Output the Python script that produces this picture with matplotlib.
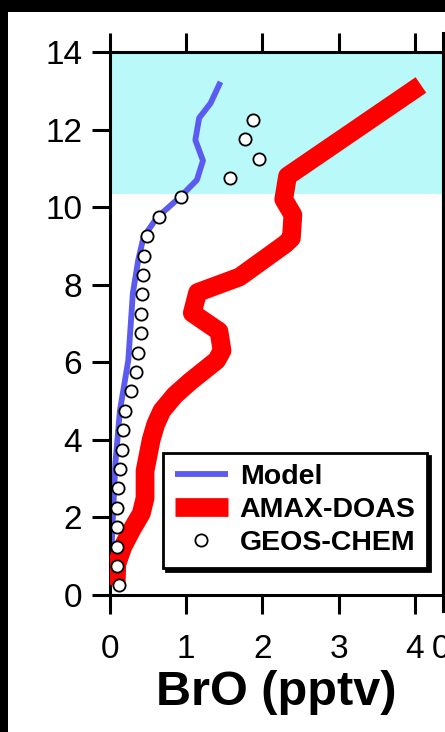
import matplotlib.pyplot as plt
from matplotlib.patches import Rectangle

plt.rcParams['font.family'] = ['Liberation Sans', 'DejaVu Sans']

# Model (blue line)
model_x = [0.02, 0.02, 0.04, 0.07, 0.13, 0.24, 0.30, 0.37, 0.44, 0.62, 0.92, 1.14, 1.22, 1.12, 1.17, 1.32, 1.45]
model_y = [0.25, 1.2, 2.09, 3.38, 4.75, 6.05, 7.78, 8.63, 9.23, 9.74, 10.26, 10.7, 11.2, 11.73, 12.3, 12.68, 13.23]

# AMAX-DOAS (red thick line)
amax_x = [0.08, 0.09, 0.17, 0.29, 0.41, 0.46, 0.46, 0.54, 0.60, 0.68, 0.85, 1.05, 1.40, 1.47, 1.43, 1.08, 1.15,
          1.70, 2.30, 2.38, 2.40, 2.28, 2.33, 4.08]
amax_y = [0.25, 0.8, 1.25, 1.7, 2.1, 2.5, 3.2, 4.0, 4.4, 4.75, 5.15, 5.5, 6.05, 6.3, 6.8, 7.27, 7.8,
          8.2, 9.05, 9.2, 9.8, 10.2, 10.8, 13.15]

# GEOS-CHEM (open circles)
geos_y = [0.25, 0.75, 1.25, 1.75, 2.25, 2.75, 3.25, 3.75, 4.25, 4.75, 5.25, 5.75, 6.25,
          6.75, 7.25, 7.75, 8.25, 8.75, 9.25, 9.75, 10.25, 10.75, 11.25, 11.75, 12.25]
geos_x = [0.12, 0.09, 0.09, 0.09, 0.09, 0.10, 0.13, 0.16, 0.17, 0.20, 0.28, 0.34, 0.37,
          0.41, 0.41, 0.42, 0.43, 0.44, 0.48, 0.64, 0.93, 1.57, 1.96, 1.77, 1.88]

xticks = [0, 1, 2, 3, 4]
yticks = [0, 2, 4, 6, 8, 10, 12, 14]
strat_bottom = 10.35

fig = plt.figure(figsize=(4.45, 7.32), dpi=100)
fig.patch.set_facecolor('black')
fig.add_artist(Rectangle((8 / 445, 0), 1, 720 / 732, transform=fig.transFigure,
                         facecolor='white', edgecolor='none', zorder=-10))

ax = fig.add_axes([110 / 445, 137 / 732, 333 / 445, 543 / 732])
ax.axhspan(strat_bottom, 14, color='#b9f9f9', lw=0, zorder=0)

ax.plot(model_x, model_y, color='#5b5bf0', lw=4.2, solid_capstyle='butt', label='Model', zorder=2)
ax.plot(amax_x, amax_y, color='#ff0000', lw=13.5, solid_capstyle='butt', solid_joinstyle='round',
        label='AMAX-DOAS', zorder=3)
ax.plot(geos_x, geos_y, 'o', ms=8.8, mfc='white', mec='black', mew=1.3, ls='none',
        label='GEOS-CHEM', zorder=4)

ax.set_xlim(0, 4.37)
ax.set_ylim(0, 14)
ax.set_xticks(xticks)
ax.set_yticks(yticks)
ax.tick_params(axis='both', direction='out', width=2.2, labelsize=24, color='black')
ax.tick_params(axis='x', length=14, pad=14, top=True)
ax.tick_params(axis='y', length=13, pad=7, right=False)
for s in ax.spines.values():
    s.set_linewidth(2.2)
ax.set_facecolor('white')

ax.set_xlabel('BrO (pptv)', fontsize=35, fontweight='bold', labelpad=4)

# edge of the neighbouring panel
ax.plot([1, 1], [-0.03, 1.035], transform=ax.transAxes, clip_on=False, color='black', lw=2.2)
ax.annotate('0', xy=(0.995, 0), xycoords='axes fraction', xytext=(0, -28),
            textcoords='offset points', fontsize=24, ha='center', va='top',
            annotation_clip=False)

leg = ax.legend(loc='lower right', bbox_to_anchor=(0.952, 0.05), borderaxespad=0,
                prop={'weight': 'bold', 'size': 20.5}, frameon=True, fancybox=False,
                edgecolor='black', framealpha=1, handlelength=1.86, handletextpad=0.42,
                labelspacing=0.25, borderpad=0.4,
                shadow={'color': 'black', 'alpha': 1})
leg.get_frame().set_linewidth(2)

fig.savefig('out.png', dpi=100, facecolor=fig.get_facecolor())
